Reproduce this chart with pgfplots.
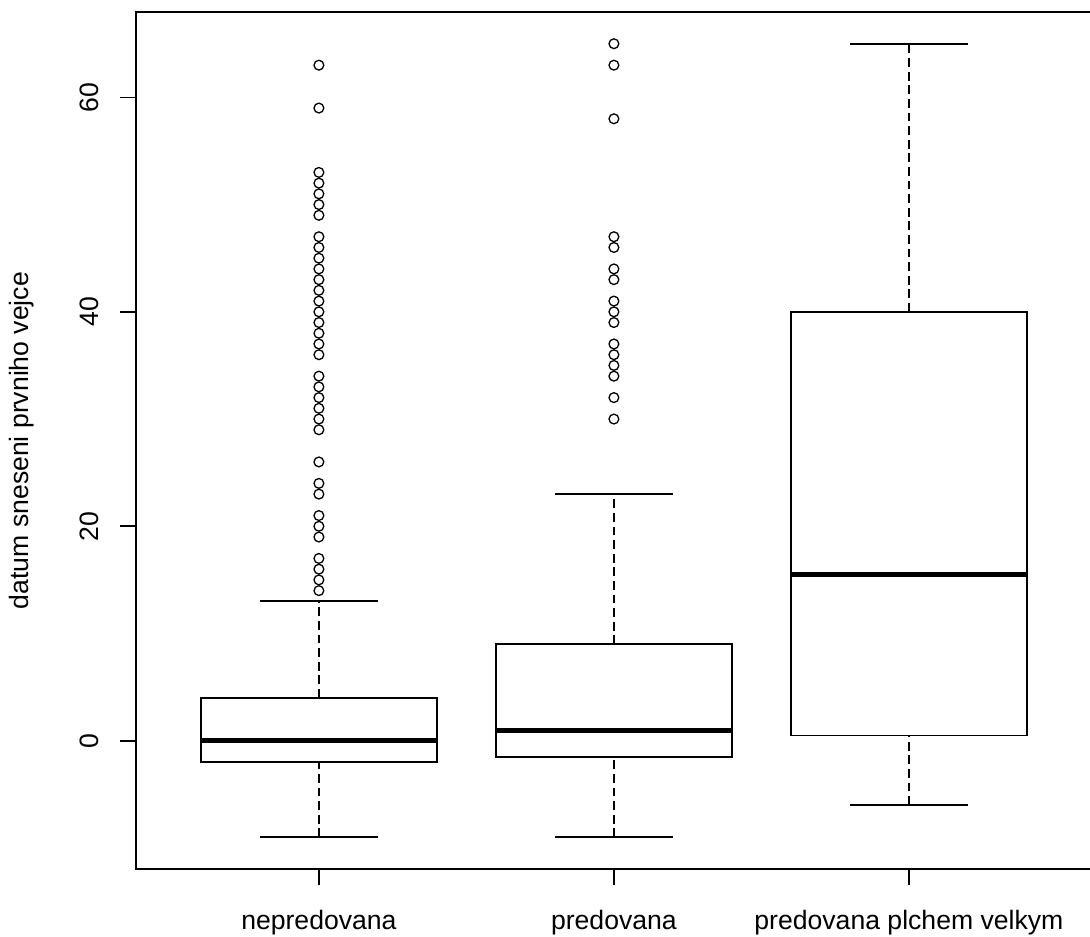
\documentclass[border=0pt]{standalone}
\usepackage{fontspec}
\setmainfont{Liberation Sans}
\usepackage{pgfplots}
\pgfplotsset{compat=1.18}
\begin{document}
\fontsize{13.3}{16}\selectfont
\begin{tikzpicture}
\begin{axis}[
  name=ax,
  scale only axis, width=477.9pt, height=428.5pt,
  xmin=0.38, xmax=3.62, ymin=-11.96, ymax=67.96,
  xtick={1,2,3},
  xticklabels={nepredovana,predovana,predovana plchem velkym},
  ytick={0,20,40,60},
  tick pos=left, tick align=outside, major tick length=8pt,
  axis line style={line width=0.8pt},
  every tick/.style={black, line width=0.8pt},
  yticklabel style={rotate=90, anchor=south},
  yticklabel shift=6pt,
  xticklabel shift=8pt,
  /pgf/number format/assume math mode=true,
  ylabel={datum sneseni prvniho vejce},
  ylabel style={at={(axis description cs:-0.1192,0.5)}, anchor=center, rotate=0},
  unbounded coords=jump,
]
% whiskers (dashed): quartile -> whisker end
\addplot[black, line width=0.85pt, dash pattern=on 4.4pt off 2.4pt, mark=none]
  coordinates {(1,-9) (1,-2) (1,nan) (1,4) (1,13) (1,nan)
               (2,-9) (2,-1.5) (2,nan) (2,9) (2,23) (2,nan)
               (3,-6) (3,0.5) (3,nan) (3,40) (3,65)};
% whisker caps
\addplot[black, line width=0.85pt, mark=none]
  coordinates {(0.8,-9) (1.2,-9) (1,nan) (0.8,13) (1.2,13) (1,nan)
               (1.8,-9) (2.2,-9) (2,nan) (1.8,23) (2.2,23) (2,nan)
               (2.8,-6) (3.2,-6) (3,nan) (2.8,65) (3.2,65)};
% boxes (lower quartile to upper quartile)
\addplot[black, line width=0.85pt, mark=none, line cap=rect, line join=miter, fill=white]
  coordinates {(0.6,-2) (1.4,-2) (1.4,4) (0.6,4) (0.6,-2) (1,nan)
               (1.6,-1.5) (2.4,-1.5) (2.4,9) (1.6,9) (1.6,-1.5) (2,nan)
               (2.6,0.5) (3.4,0.5) (3.4,40) (2.6,40) (2.6,0.5)};
% medians
\addplot[black, line width=2.5pt, mark=none]
  coordinates {(0.6,0) (1.4,0) (1,nan) (1.6,1) (2.4,1) (2,nan) (2.6,15.5) (3.4,15.5)};
% outliers
\addplot[only marks, mark=o, mark size=2.45pt, mark options={black, solid, line width=0.65pt}]
  coordinates {(1,14) (1,15) (1,16) (1,17) (1,19) (1,20) (1,21) (1,23) (1,24) (1,26)
    (1,29) (1,30) (1,31) (1,32) (1,33) (1,34) (1,36) (1,37) (1,38) (1,39) (1,40)
    (1,41) (1,42) (1,43) (1,44) (1,45) (1,46) (1,47) (1,49) (1,50) (1,51) (1,52)
    (1,53) (1,59) (1,63)
    (2,30) (2,32) (2,34) (2,35) (2,36) (2,37) (2,39) (2,40) (2,41) (2,43) (2,44)
    (2,46) (2,47) (2,58) (2,63) (2,65)};
\end{axis}
\pgfresetboundingbox
\path (ax.south west) ++(-68pt,-33.5pt) rectangle ++(545pt,468pt);
\end{tikzpicture}
\end{document}
